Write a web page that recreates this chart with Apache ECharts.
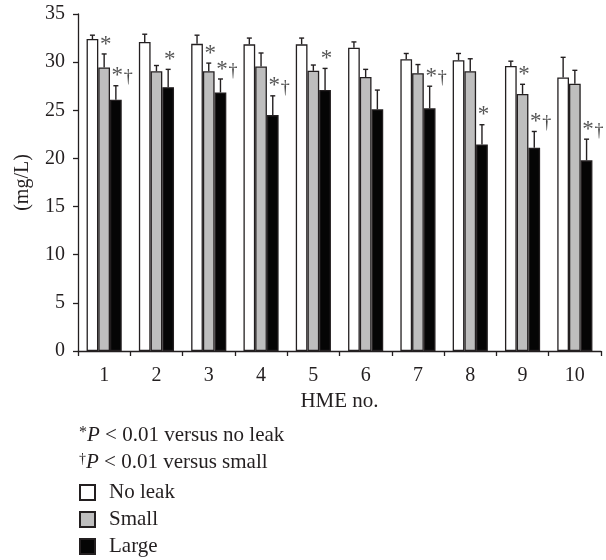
<!DOCTYPE html>
<html lang="en">
<head>
    <meta charset="UTF-8">
    <title>HME leak</title>
    <script src="https://cdn.jsdelivr.net/npm/echarts@6/dist/echarts.min.js"></script>
    <style>
        html, body { margin: 0; padding: 0; background: #fff; }
    </style>
</head>
<body>
<div id="main" style="width: 606px;height:560px;"></div>
<script type="text/javascript">
    // 数据
    var categories = ['1', '2', '3', '4', '5', '6', '7', '8', '9', '10'];
    var yTicks = [0, 5, 10, 15, 20, 25, 30, 35];

    var noLeak = [32.4, 32.1, 31.9, 31.85, 31.85, 31.5, 30.3, 30.2, 29.6, 28.4];
    var noLeakErr = [0.4, 0.8, 0.9, 0.65, 0.65, 0.6, 0.6, 0.7, 0.5, 2.1];
    var small = [29.45, 29.05, 29.05, 29.55, 29.1, 28.45, 28.85, 29.05, 26.7, 27.75];
    var smallErr = [1.4, 0.6, 0.85, 1.4, 0.6, 0.8, 0.9, 1.3, 1.0, 1.4];
    var large = [26.1, 27.4, 26.85, 24.5, 27.1, 25.1, 25.2, 21.45, 21.1, 19.8];
    var largeErr = [1.45, 1.85, 1.4, 2.0, 2.25, 2.0, 2.3, 2.05, 1.7, 2.2];

    var noLeakMarks = ['', '', '', '', '', '', '', '', '', ''];
    var smallMarks = ['*', '', '*', '', '', '', '', '', '*', ''];
    var largeMarks = ['*\u2020', '*', '*\u2020', '*\u2020', '*', '', '*\u2020', '*', '*\u2020', '*\u2020'];

    var font = '"Liberation Serif", "DejaVu Serif", serif';
    var textColor = '#231f20';
    var barPct = 0.224;

    var myChart = echarts.init(document.getElementById('main'));

    // 误差线 + 显著性标记
    function errSeries(name, k, means, errs, marks) {
        var data = [];
        for (var i = 0; i < means.length; i++) {
            data.push([i, means[i], errs[i], marks[i]]);
        }
        return {
            name: name + ' err',
            type: 'custom',
            z: 5,
            silent: true,
            data: data,
            encode: {x: 0, y: 1},
            renderItem: function (params, api) {
                var i = api.value(0);
                var mean = api.value(1);
                var err = api.value(2);
                var mark = marks[i];
                var band = api.size([1, 0])[0];
                var off = (k - 1) * band * barPct;
                var p0 = api.coord([i, mean]);
                var p1 = api.coord([i, mean + err]);
                var x = p0[0] + off;
                var lineStyle = {stroke: '#231f20', lineWidth: 1.4};
                var children = [
                    {type: 'line', shape: {x1: x, y1: p0[1], x2: x, y2: p1[1]}, style: lineStyle},
                    {type: 'line', shape: {x1: x - 2.5, y1: p1[1], x2: x + 2.5, y2: p1[1]}, style: lineStyle}
                ];
                if (mark.indexOf('*') >= 0) {
                    children.push({
                        type: 'text',
                        style: {
                            text: '*', x: x + 1.5, y: p1[1] + 2,
                            align: 'center', verticalAlign: 'bottom',
                            font: '23px ' + font, fill: '#555'
                        }
                    });
                }
                if (mark.indexOf('\u2020') >= 0) {
                    children.push({
                        type: 'text',
                        style: {
                            text: '\u2020', x: x + 12.5, y: p1[1] + 1,
                            align: 'center', verticalAlign: 'bottom',
                            font: '18px ' + font, fill: '#444'
                        }
                    });
                }
                return {type: 'group', children: children};
            }
        };
    }

    function barSeries(name, values, color) {
        return {
            name: name,
            type: 'bar',
            data: values,
            barWidth: (barPct * 100) + '%',
            barGap: '0%',
            itemStyle: {color: color, borderColor: '#231f20', borderWidth: 1.3}
        };
    }

    myChart.setOption({
        backgroundColor: '#ffffff',
        animation: false,
        textStyle: {fontFamily: font, color: textColor},
        grid: {left: 78, right: 5, top: 14, bottom: 209, containLabel: false},
        legend: {
            orient: 'vertical',
            left: 79,
            top: 482,
            height: 90,
            padding: 0,
            itemWidth: 15,
            itemHeight: 15,
            itemGap: 6,
            icon: 'rect',
            data: ['No leak', 'Small', 'Large'],
            textStyle: {fontFamily: font, fontSize: 21, color: textColor, lineHeight: 20, padding: [0, 0, 0, 9]}
        },
        xAxis: {
            type: 'category',
            data: categories,
            name: 'HME no.',
            nameLocation: 'middle',
            nameGap: 38,
            nameTextStyle: {fontFamily: font, fontSize: 21, color: textColor},
            axisLine: {lineStyle: {color: '#231f20', width: 1.3}},
            axisTick: {show: true, interval: 0, length: 5, lineStyle: {color: '#231f20', width: 1.3}},
            axisLabel: {fontFamily: font, fontSize: 20, color: textColor, margin: 15, interval: 0}
        },
        yAxis: {
            type: 'value',
            min: yTicks[0],
            max: yTicks[yTicks.length - 1],
            interval: 5,
            name: '(mg/L)',
            nameLocation: 'middle',
            nameGap: 45,
            nameRotate: 90,
            nameTextStyle: {fontFamily: font, fontSize: 20, color: textColor},
            splitLine: {show: false},
            axisLine: {show: true, lineStyle: {color: '#231f20', width: 1.3}},
            axisTick: {show: true, length: 5, lineStyle: {color: '#231f20', width: 1.3}},
            axisLabel: {fontFamily: font, fontSize: 20, color: textColor, margin: 13}
        },
        graphic: [
            {
                type: 'text', left: 79, top: 425,
                style: {
                    text: '{s|*}{i|P} < 0.01 versus no leak',
                    font: '21px ' + font, fill: textColor,
                    rich: {
                        s: {fontSize: 16, verticalAlign: 'top', fontFamily: font, fill: textColor},
                        i: {fontStyle: 'italic', fontSize: 21, fontFamily: font, fill: textColor}
                    }
                }
            },
            {
                type: 'text', left: 79, top: 452,
                style: {
                    text: '{s|\u2020}{i|P} < 0.01 versus small',
                    font: '21px ' + font, fill: textColor,
                    rich: {
                        s: {fontSize: 14, verticalAlign: 'top', fontFamily: font, fill: textColor},
                        i: {fontStyle: 'italic', fontSize: 21, fontFamily: font, fill: textColor}
                    }
                }
            }
        ],
        series: [
            barSeries('No leak', noLeak, '#ffffff'),
            barSeries('Small', small, '#bebebe'),
            barSeries('Large', large, '#050505'),
            errSeries('No leak', 0, noLeak, noLeakErr, noLeakMarks),
            errSeries('Small', 1, small, smallErr, smallMarks),
            errSeries('Large', 2, large, largeErr, largeMarks)
        ]
    });
    window.addEventListener("resize", function () {
        myChart.resize();
    });
</script>
</body>
</html>
